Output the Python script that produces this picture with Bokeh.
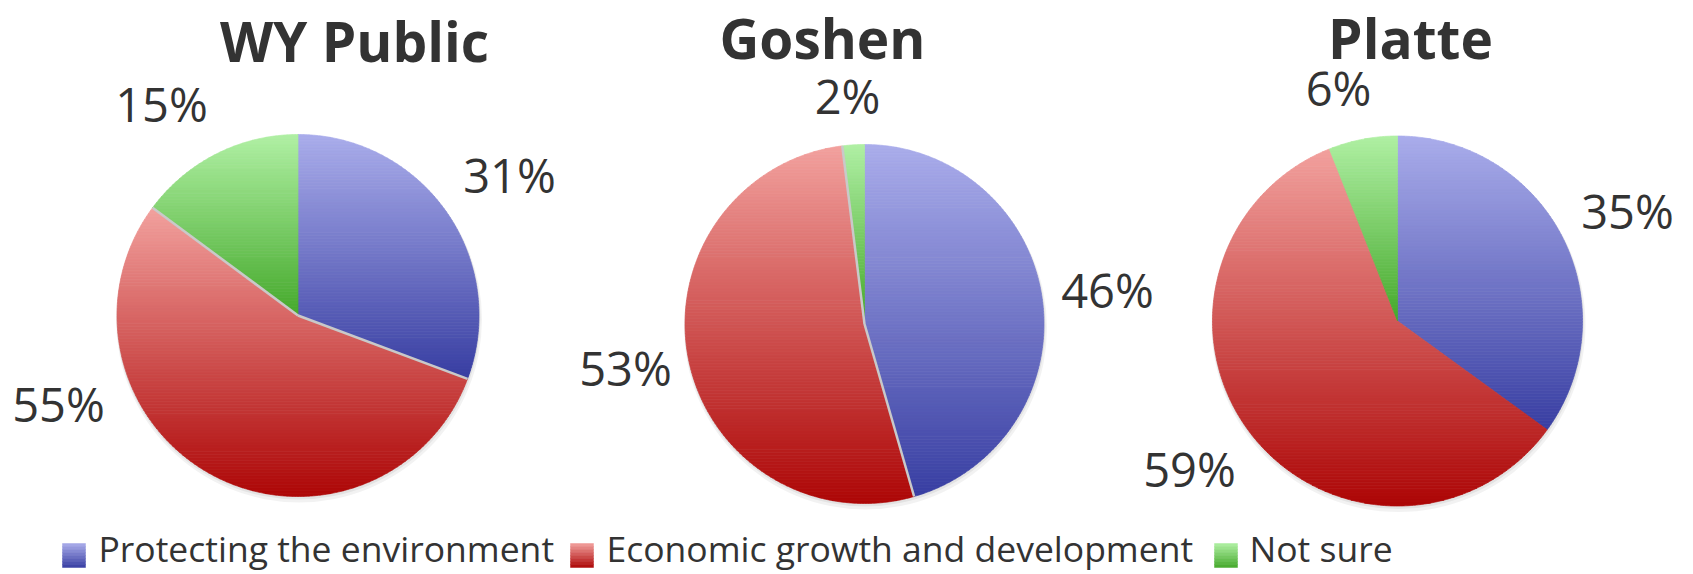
import math
from bokeh.plotting import figure
from bokeh.models import Range1d
from bokeh.core.properties import value
from bokeh.embed import file_html
from bokeh.resources import INLINE

# ---------------- data ----------------
categories = ["Protecting the environment", "Economic growth and development", "Not sure"]
regions = ["WY Public", "Goshen", "Platte"]
wy_public = [31, 55, 15]
goshen = [46, 53, 2]
platte = [35, 59, 6]
series = [wy_public, goshen, platte]

# ---------------- style / layout ----------------
top_colors = ["#aaadeb", "#f2a19e", "#b0f0a4"]
bottom_colors = ["#383ea2", "#ad0606", "#45a92b"]
text_color = "#333333"
FONT = value("Open Sans")

# pie centres and radii (page coordinates of the picture)
pie_cx = [297.5, 864, 1397]
pie_cy = [315, 323.5, 320.5]
pie_r = [181, 179.5, 185]
sep_width = [2.5, 2.5, 0]

TITLE_SIZE = 55
LABEL_SIZE = 47
LEGEND_SIZE = 35.5
BASE_FIX = 0.41  # svg baseline correction (fraction of font size)

title_x = [354, 822, 1410]
title_y = [63, 60, 60]

label_x = [[509, 58, 161], [1107, 625, 847], [1627, 1189, 1338]]
label_y = [[194, 423, 123], [309, 387, 115], [230, 488, 107]]

legend_sq_x = [62, 570, 1214]
legend_txt_x = [98, 606, 1249]
legend_sq_top, legend_sq_bot = 543, 567
legend_baseline = 562

W, H = 1693, 574
p = figure(width=W, height=H, x_range=Range1d(0, W), y_range=Range1d(H, 0),
           output_backend="svg", toolbar_location=None, min_border=0)
p.axis.visible = False
p.grid.visible = False
p.outline_line_color = None
p.background_fill_color = "white"
p.border_fill_color = "white"


def h2rgb(h):
    return tuple(int(h[i:i + 2], 16) for i in (1, 3, 5))


def lerp(c0, c1, t):
    a, b = h2rgb(c0), h2rgb(c1)
    return "#%02x%02x%02x" % tuple(int(round(x + (y - x) * t)) for x, y in zip(a, b))


def wedge_poly(cx, cy, r, a0, a1):
    n = max(4, int(abs(a1 - a0) / 0.5))
    pts = [(cx, cy)]
    for i in range(n + 1):
        a = math.radians(a0 + (a1 - a0) * i / n)
        pts.append((cx + r * math.sin(a), cy - r * math.cos(a)))
    return pts


def clip_half(pts, inside, inter):
    out = []
    if not pts:
        return out
    prev = pts[-1]
    for cur in pts:
        if inside(cur):
            if not inside(prev):
                out.append(inter(prev, cur))
            out.append(cur)
        elif inside(prev):
            out.append(inter(prev, cur))
        prev = cur
    return out


def clip_band(pts, ya, yb):
    def inter_y(y0):
        def f(p0, p1):
            t = (y0 - p0[1]) / (p1[1] - p0[1])
            return (p0[0] + (p1[0] - p0[0]) * t, y0)
        return f
    r = clip_half(pts, lambda q: q[1] >= ya, inter_y(ya))
    r = clip_half(r, lambda q: q[1] <= yb, inter_y(yb))
    return r


STEP = 3.0
xs_all, ys_all, col_all = [], [], []
sep_xs, sep_ys = [], []

for k, vals in enumerate(series):
    cx, cy, r = pie_cx[k], pie_cy[k], pie_r[k]
    total = float(sum(vals))
    # soft shadow
    p.circle(x=[cx + 1], y=[cy + 4], radius=r + 2, fill_color="#000000",
             fill_alpha=0.05, line_color=None)
    p.circle(x=[cx + 0.5], y=[cy + 2], radius=r + 1, fill_color="#000000",
             fill_alpha=0.06, line_color=None)
    start = 0.0
    angles = []
    for j, v in enumerate(vals):
        a0 = start
        a1 = start + v / total * 360.0
        angles.append((a0, a1))
        start = a1
        poly = wedge_poly(cx, cy, r, a0, a1)
        ys_p = [q[1] for q in poly]
        ytop, ybot = min(ys_p), max(ys_p)
        nb = max(1, int(math.ceil((ybot - ytop) / STEP)))
        for b in range(nb):
            ya = ytop + b * (ybot - ytop) / nb
            yb = ytop + (b + 1) * (ybot - ytop) / nb
            seg = clip_band(poly, ya - 0.01, yb + 0.01)
            if len(seg) < 3:
                continue
            t = ((ya + yb) / 2 - ytop) / (ybot - ytop)
            c = lerp(top_colors[j], bottom_colors[j], t)
            xs_all.append([q[0] for q in seg])
            ys_all.append([q[1] for q in seg])
            col_all.append(c)
    if sep_width[k] > 0:
        a0, a1 = angles[1]
        for a in (a0, a1):
            ar = math.radians(a)
            sep_xs.append([cx, cx + r * math.sin(ar)])
            sep_ys.append([cy, cy - r * math.cos(ar)])

p.patches(xs=xs_all, ys=ys_all, fill_color=col_all, line_color=col_all, line_width=0.7)
if sep_xs:
    p.multi_line(xs=sep_xs, ys=sep_ys, line_color="#c9c9c9", line_width=2.5)

# titles
p.text(x=title_x, y=[v - BASE_FIX * TITLE_SIZE for v in title_y], text=regions,
       text_font=FONT, text_font_style="bold",
       text_font_size=f"{TITLE_SIZE}px", text_color=text_color, text_align="center",
       text_baseline="alphabetic")

# percentage labels
lx, ly, lt = [], [], []
for k, vals in enumerate(series):
    for j, v in enumerate(vals):
        lx.append(label_x[k][j])
        ly.append(label_y[k][j] - BASE_FIX * LABEL_SIZE)
        lt.append(f"{v}%")
p.text(x=lx, y=ly, text=lt, text_font=FONT, text_font_size=f"{LABEL_SIZE}px",
       text_color=text_color, text_align="center", text_baseline="alphabetic")

# legend
NSQ = 8
ql, qr, qt, qb, qc = [], [], [], [], []
for j in range(len(categories)):
    h = (legend_sq_bot - legend_sq_top) / NSQ
    for b in range(NSQ):
        ql.append(legend_sq_x[j])
        qr.append(legend_sq_x[j] + 23)
        qt.append(legend_sq_top + b * h)
        qb.append(legend_sq_top + (b + 1) * h)
        qc.append(lerp(top_colors[j], bottom_colors[j], (b + 0.5) / NSQ))
p.quad(left=ql, right=qr, top=qt, bottom=qb, fill_color=qc, line_color=qc, line_width=0.5)
p.text(x=legend_txt_x, y=[legend_baseline - BASE_FIX * LEGEND_SIZE] * 3, text=categories,
       text_font=FONT, text_font_size=f"{LEGEND_SIZE}px", text_color=text_color,
       text_align="left", text_baseline="alphabetic")

open("out.html", "w").write(file_html(p, INLINE))
